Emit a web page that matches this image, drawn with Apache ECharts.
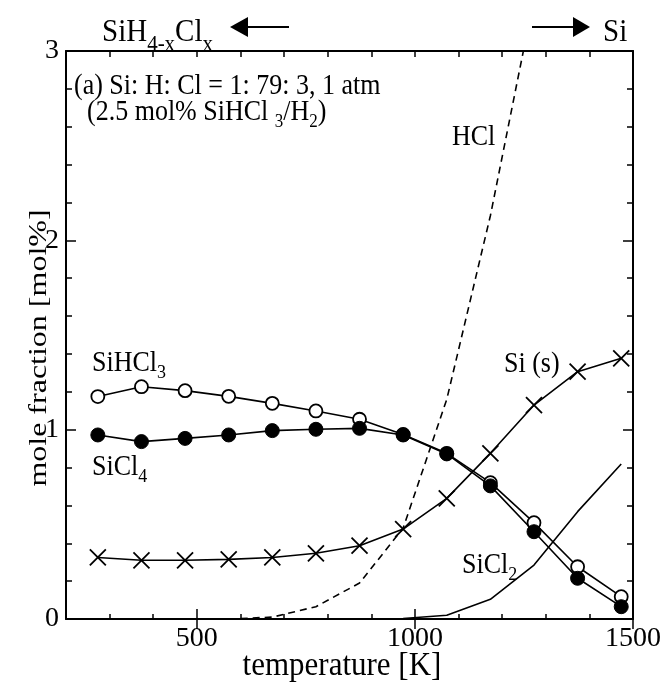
<!DOCTYPE html>
<html><head><meta charset="utf-8">
<script src="https://cdn.jsdelivr.net/npm/echarts@6/dist/echarts.min.js"></script>
<style>html,body{margin:0;padding:0;background:#fff}#c{width:664px;height:687px}</style>
</head><body><div id="c"></div>
<script>
// ---- data ----
const temps = [273, 373, 473, 573, 673, 773, 873, 973, 1073, 1173, 1273, 1373, 1473];
const sihcl3 = [1.175, 1.227, 1.206, 1.176, 1.139, 1.099, 1.055, 0.975, 0.875, 0.72, 0.509, 0.276, 0.118];
const sicl4 = [0.972, 0.937, 0.954, 0.972, 0.995, 1.002, 1.007, 0.972, 0.872, 0.703, 0.461, 0.215, 0.065];
const siSolid = [0.325, 0.31, 0.31, 0.315, 0.325, 0.347, 0.387, 0.475, 0.637, 0.875, 1.13, 1.306, 1.377];
const hclTemps = [573, 673, 773, 873, 973, 1073, 1173, 1273];
const hcl = [0.0, 0.01, 0.065, 0.19, 0.48, 1.16, 2.13, 3.28];
const sicl2Temps = [973, 1073, 1173, 1273, 1373, 1473];
const sicl2 = [0.003, 0.02, 0.104, 0.285, 0.567, 0.819];
const xLabelTicks = [500, 1000, 1500];

const pairs = (xs, ys) => xs.map((x, i) => [x, ys[i]]);
const FONT = '"Liberation Serif", "Times New Roman", serif';
const chart = echarts.init(document.getElementById('c'), null, {renderer: 'canvas'});

const baseX = {
  type: 'value', min: 200, max: 1500, interval: 100,
  splitLine: {show: false}
};
const lineBlack = {lineStyle: {color: '#000', width: 2}};
const sub = (size, pad) => ({font: size + 'px ' + FONT, fill: '#000', lineHeight: size + 2, padding: [pad, 0, 0, 0]});
const main = size => ({font: size + 'px ' + FONT, fill: '#000', lineHeight: size + 2});

chart.setOption({
  backgroundColor: '#fff',
  animation: false,
  grid: {left: 66, right: 31, top: 51, bottom: 68, containLabel: false},
  xAxis: [
    Object.assign({}, baseX, {
      position: 'bottom',
      axisLine: Object.assign({show: true, onZero: false}, lineBlack),
      axisTick: {inside: true, length: 5, lineStyle: {color: '#000', width: 1.5}},
      axisLabel: {
        color: '#000', fontFamily: FONT, fontSize: 28, margin: 6,
        formatter: v => (xLabelTicks.indexOf(v) >= 0 ? String(v) : '')
      }
    }),
    Object.assign({}, baseX, {
      position: 'bottom',
      axisLine: {show: false},
      axisTick: {inside: true, length: 10, customValues: xLabelTicks, lineStyle: {color: '#000', width: 1.5}},
      axisLabel: {show: false}
    }),
    Object.assign({}, baseX, {
      position: 'top',
      axisLine: Object.assign({show: true, onZero: false}, lineBlack),
      axisTick: {inside: true, length: 6, lineStyle: {color: '#000', width: 1.5}},
      axisLabel: {show: false}
    }),
    Object.assign({}, baseX, {
      position: 'top',
      axisLine: {show: false},
      axisTick: {inside: true, length: 10, customValues: xLabelTicks, lineStyle: {color: '#000', width: 1.5}},
      axisLabel: {show: false}
    })
  ],
  yAxis: [
    {
      type: 'value', min: 0, max: 3, interval: 1, position: 'left',
      axisLine: Object.assign({show: true, onZero: false}, lineBlack),
      axisTick: {inside: true, length: 10, lineStyle: {color: '#000', width: 1.5}},
      minorTick: {show: true, splitNumber: 5, length: 6, lineStyle: {color: '#000', width: 1.5}},
      axisLabel: {color: '#000', fontFamily: FONT, fontSize: 28, margin: 7},
      splitLine: {show: false}
    },
    {
      type: 'value', min: 0, max: 3, interval: 1, position: 'right',
      axisLine: Object.assign({show: true, onZero: false}, lineBlack),
      axisTick: {inside: true, length: 10, lineStyle: {color: '#000', width: 1.5}},
      minorTick: {show: true, splitNumber: 5, length: 6, lineStyle: {color: '#000', width: 1.5}},
      axisLabel: {show: false},
      splitLine: {show: false}
    }
  ],
  series: [
    {
      name: 'HCl', type: 'line', xAxisIndex: 0, yAxisIndex: 0, clip: true,
      data: pairs(hclTemps, hcl), showSymbol: false, symbol: 'none',
      lineStyle: {color: '#000', width: 1.6, type: [7, 5]}, z: 2
    },
    {
      name: 'SiCl2', type: 'line', xAxisIndex: 0, yAxisIndex: 0, clip: true,
      data: pairs(sicl2Temps, sicl2), showSymbol: false, symbol: 'none',
      lineStyle: {color: '#000', width: 1.6}, z: 2
    },
    {
      name: 'Si (s)', type: 'line', xAxisIndex: 0, yAxisIndex: 0, clip: true,
      data: pairs(temps, siSolid),
      symbol: 'path://M0,0L10,10M10,0L0,10', symbolSize: 16,
      itemStyle: {color: '#000', borderColor: '#000', borderWidth: 1.8},
      lineStyle: {color: '#000', width: 1.6}, z: 3
    },
    {
      name: 'SiHCl3', type: 'line', xAxisIndex: 0, yAxisIndex: 0, clip: true,
      data: pairs(temps, sihcl3),
      symbol: 'circle', symbolSize: 13,
      itemStyle: {color: '#fff', borderColor: '#000', borderWidth: 1.8},
      lineStyle: {color: '#000', width: 1.6}, z: 4
    },
    {
      name: 'SiCl4', type: 'line', xAxisIndex: 0, yAxisIndex: 0, clip: true,
      data: pairs(temps, sicl4),
      symbol: 'circle', symbolSize: 14,
      itemStyle: {color: '#000', borderColor: '#000', borderWidth: 1},
      lineStyle: {color: '#000', width: 1.6}, z: 5
    }
  ],
  graphic: [
    // axis names
    {type: 'text', x: 342, y: 666, scaleY: 1.1, style: {text: 'temperature [K]', font: '31px ' + FONT, fill: '#000', align: 'center', verticalAlign: 'middle'}},
    {type: 'text', x: 39, y: 348, rotation: Math.PI / 2, scaleX: 1.28, style: {text: 'mole fraction [mol%]', font: '25px ' + FONT, fill: '#000', align: 'center', verticalAlign: 'middle'}},
    // header texts
    {type: 'text', x: 102, y: 33, scaleY: 1.1, style: {
      text: '{a|SiH}{s|4-x}{a|Cl}{s|x}', fill: '#000', verticalAlign: 'middle',
      rich: {a: main(29), s: sub(21, 22)}
    }},
    {type: 'line', shape: {x1: 246, y1: 27, x2: 289, y2: 27}, style: {stroke: '#000', lineWidth: 2}},
    {type: 'polygon', shape: {points: [[230, 27], [248, 17], [248, 37]]}, style: {fill: '#000'}},
    {type: 'line', shape: {x1: 532, y1: 27, x2: 575, y2: 27}, style: {stroke: '#000', lineWidth: 2}},
    {type: 'polygon', shape: {points: [[590, 27], [573, 17], [573, 37]]}, style: {fill: '#000'}},
    {type: 'text', x: 603, y: 33, scaleY: 1.1, style: {text: 'Si', font: '29px ' + FONT, fill: '#000', verticalAlign: 'middle'}},
    // annotation
    {type: 'text', x: 74, y: 86, scaleY: 1.1, style: {text: '(a) Si: H: Cl = 1: 79: 3, 1 atm', font: '26px ' + FONT, fill: '#000', verticalAlign: 'middle'}},
    {type: 'text', x: 87, y: 112, scaleY: 1.1, style: {
      text: '{a|(2.5 mol% SiHCl }{s|3}{a|/H}{s|2}{a|)}', verticalAlign: 'middle',
      rich: {a: main(26), s: sub(17, 18)}
    }},
    // series labels
    {type: 'text', x: 92, y: 363, scaleY: 1.1, style: {
      text: '{a|SiHCl}{s|3}', verticalAlign: 'middle',
      rich: {a: main(26), s: sub(18, 18)}
    }},
    {type: 'text', x: 92, y: 467, scaleY: 1.1, style: {
      text: '{a|SiCl}{s|4}', verticalAlign: 'middle',
      rich: {a: main(26), s: sub(18, 18)}
    }},
    {type: 'text', x: 504, y: 364, scaleY: 1.1, style: {text: 'Si (s)', font: '26px ' + FONT, fill: '#000', verticalAlign: 'middle'}},
    {type: 'text', x: 462, y: 565, scaleY: 1.1, style: {
      text: '{a|SiCl}{s|2}', verticalAlign: 'middle',
      rich: {a: main(26), s: sub(18, 18)}
    }},
    {type: 'text', x: 452, y: 137, scaleY: 1.1, style: {text: 'HCl', font: '26px ' + FONT, fill: '#000', verticalAlign: 'middle'}}
  ]
});
</script>
</body></html>
